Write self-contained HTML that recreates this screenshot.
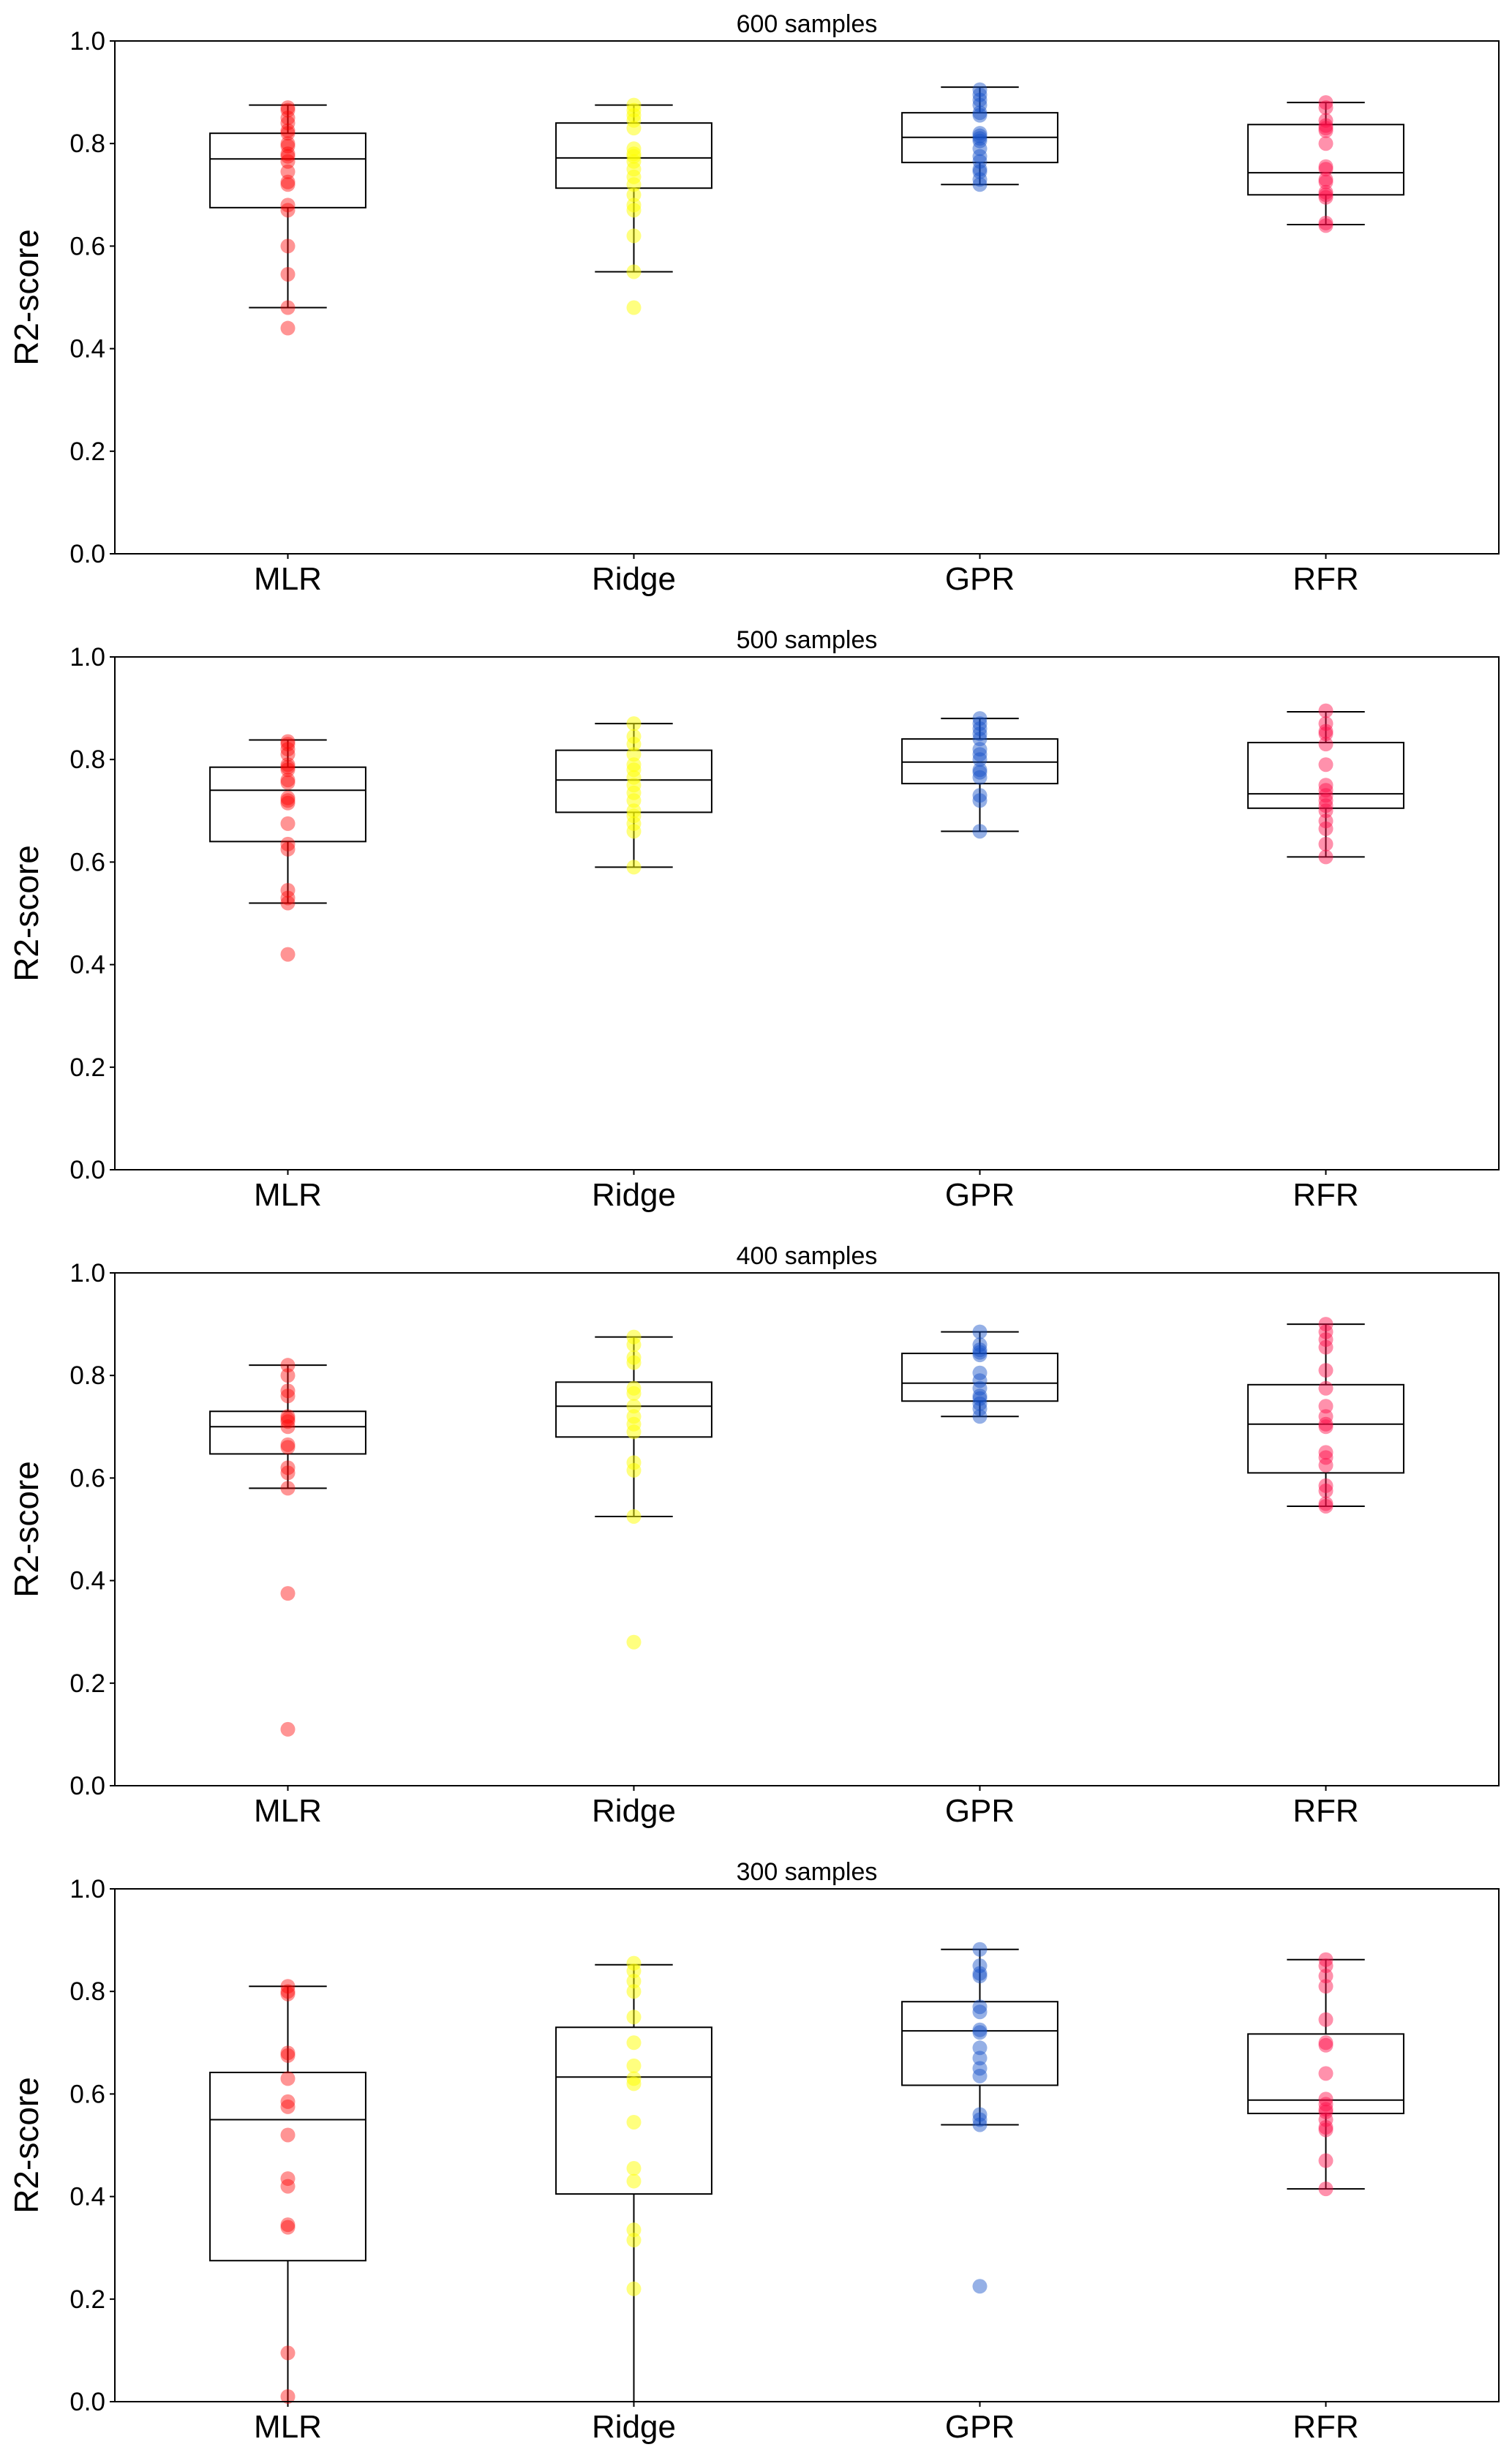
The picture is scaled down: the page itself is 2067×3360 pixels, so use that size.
<!DOCTYPE html>
<html><head><meta charset="utf-8"><style>
html,body{margin:0;padding:0;background:#fff;}
svg{display:block;font-family:"Liberation Sans","DejaVu Sans",sans-serif;}
</style></head>
<body>
<svg id="fig" width="2067" height="3360" viewBox="0 0 2067 3360" xmlns="http://www.w3.org/2000/svg"></svg>
<script>
const categories = ["MLR","Ridge","GPR","RFR"];
const panelTitles = ["600 samples","500 samples","400 samples","300 samples"];
const yTicks = [0,0.2,0.4,0.6,0.8,1.0];
const yTickLabels = ["0.0","0.2","0.4","0.6","0.8","1.0"];
// box stats per panel per category: [whiskerLow, q1, median, q3, whiskerHigh]
const stats600 = [[0.48,0.675,0.77,0.82,0.875],[0.55,0.713,0.772,0.84,0.875],[0.72,0.763,0.812,0.86,0.91],[0.642,0.70,0.743,0.837,0.88]];
const stats500 = [[0.52,0.64,0.74,0.785,0.838],[0.59,0.697,0.76,0.818,0.87],[0.66,0.753,0.795,0.84,0.88],[0.61,0.705,0.733,0.833,0.893]];
const stats400 = [[0.58,0.647,0.70,0.73,0.82],[0.525,0.68,0.74,0.787,0.875],[0.72,0.75,0.785,0.843,0.885],[0.545,0.61,0.705,0.782,0.9]];
const stats300 = [[0.0,0.275,0.55,0.642,0.81],[0.0,0.405,0.633,0.73,0.852],[0.54,0.617,0.723,0.78,0.882],[0.415,0.562,0.588,0.717,0.862]];
const pts600 = [
 [0.87,0.865,0.85,0.84,0.825,0.82,0.80,0.795,0.78,0.775,0.765,0.745,0.725,0.72,0.68,0.67,0.6,0.545,0.48,0.44],
 [0.875,0.865,0.855,0.845,0.83,0.79,0.78,0.775,0.765,0.75,0.735,0.72,0.7,0.68,0.67,0.62,0.55,0.48],
 [0.905,0.895,0.885,0.875,0.86,0.855,0.82,0.815,0.81,0.805,0.79,0.775,0.765,0.75,0.745,0.73,0.72],
 [0.88,0.87,0.845,0.835,0.83,0.825,0.8,0.755,0.75,0.73,0.725,0.705,0.7,0.695,0.645,0.64]];
const pts500 = [
 [0.835,0.83,0.82,0.81,0.79,0.785,0.78,0.76,0.755,0.725,0.72,0.715,0.675,0.635,0.625,0.545,0.53,0.52,0.42],
 [0.87,0.845,0.83,0.81,0.79,0.78,0.765,0.75,0.735,0.72,0.7,0.69,0.675,0.66,0.59],
 [0.88,0.87,0.86,0.85,0.84,0.82,0.81,0.8,0.78,0.775,0.765,0.73,0.72,0.66],
 [0.895,0.87,0.855,0.85,0.83,0.79,0.75,0.74,0.73,0.72,0.71,0.7,0.68,0.665,0.635,0.61]];
const pts400 = [
 [0.82,0.8,0.77,0.76,0.72,0.715,0.71,0.7,0.665,0.66,0.62,0.61,0.58,0.375,0.11],
 [0.875,0.86,0.835,0.825,0.775,0.765,0.74,0.72,0.705,0.69,0.63,0.615,0.525,0.28],
 [0.885,0.86,0.85,0.845,0.84,0.805,0.79,0.775,0.76,0.755,0.745,0.735,0.72],
 [0.9,0.885,0.87,0.855,0.81,0.775,0.74,0.72,0.705,0.7,0.65,0.64,0.625,0.585,0.575,0.55,0.545]];
const pts300 = [
 [0.81,0.8,0.795,0.68,0.675,0.63,0.585,0.575,0.52,0.435,0.42,0.345,0.34,0.095,0.01],
 [0.855,0.84,0.82,0.8,0.75,0.7,0.655,0.63,0.62,0.545,0.455,0.43,0.335,0.315,0.22],
 [0.882,0.85,0.835,0.83,0.77,0.76,0.725,0.72,0.69,0.67,0.65,0.635,0.56,0.55,0.54,0.225],
 [0.862,0.85,0.83,0.81,0.745,0.7,0.695,0.64,0.59,0.58,0.57,0.565,0.55,0.535,0.53,0.47,0.415]];
const allStats = [stats600,stats500,stats400,stats300];
const allPts = [pts600,pts500,pts400,pts300];
const colors = ["rgba(255,0,0,0.42)","rgba(255,255,0,0.5)","rgba(20,80,200,0.45)","rgba(255,10,70,0.45)"];

const NS = "http://www.w3.org/2000/svg";
const svg = document.getElementById('fig');
const L = 157, R = 2049, PH = 701, TOP0 = 56, STEP = 842;
function mk(tag, attrs, parent){const e=document.createElementNS(NS,tag);for(const k in attrs)e.setAttribute(k,attrs[k]);(parent||svg).appendChild(e);return e;}
function xPos(i){return L + (i + 0.5) * (R - L) / categories.length;}
const unit = (R - L) / categories.length;

allStats.forEach((stats, p) => {
  const top = TOP0 + p * STEP, bot = top + PH;
  const yPos = v => bot - v * PH;
  const g = mk('g', {});
  
  
  const t = mk('text', {x:(L+R)/2, y:top-12, 'text-anchor':'middle', 'font-size':34, fill:'#000'}, g);
  t.textContent = panelTitles[p];
  
  
  const yl = mk('text', {x:0, y:0, transform:`translate(52,${top+PH/2}) rotate(-90)`, 'text-anchor':'middle', 'font-size':46, fill:'#000'}, g);
  yl.textContent = 'R2-score';
  
  
  yTicks.forEach((v, k) => {
    const y = yPos(v);
    const tl = mk('line', {x1:L-7, x2:L, y1:y, y2:y, stroke:'#000', 'stroke-width':2}, g);
    
    
    const tx = mk('text', {x:L-13, y:y+12, 'text-anchor':'end', 'font-size':35, fill:'#000'}, g);
    tx.textContent = yTickLabels[k];
    
    
  });
  categories.forEach((c, i) => {
    const x = xPos(i);
    const tl = mk('line', {x1:x, x2:x, y1:bot, y2:bot+7, stroke:'#000', 'stroke-width':2}, g);
    
    
    const tx = mk('text', {x:x, y:bot+49, 'text-anchor':'middle', 'font-size':44, fill:'#000'}, g);
    tx.textContent = c;
    
    
    const s = stats[i];
    const bw = 0.45 * unit, cw = 0.225 * unit;
    const box = mk('g', {}, g);
    
    
    mk('line', {x1:x, x2:x, y1:yPos(s[0]), y2:yPos(s[1]), stroke:'#000', 'stroke-width':2}, box);
    mk('line', {x1:x, x2:x, y1:yPos(s[3]), y2:yPos(s[4]), stroke:'#000', 'stroke-width':2}, box);
    if (s[0] > 0) mk('line', {x1:x-cw/2, x2:x+cw/2, y1:yPos(s[0]), y2:yPos(s[0]), stroke:'#000', 'stroke-width':2}, box);
    mk('line', {x1:x-cw/2, x2:x+cw/2, y1:yPos(s[4]), y2:yPos(s[4]), stroke:'#000', 'stroke-width':2}, box);
    mk('rect', {x:x-bw/2, y:yPos(s[3]), width:bw, height:yPos(s[1])-yPos(s[3]), fill:'none', stroke:'#000', 'stroke-width':2}, box);
    mk('line', {x1:x-bw/2, x2:x+bw/2, y1:yPos(s[2]), y2:yPos(s[2]), stroke:'#000', 'stroke-width':2}, box);
    allPts[p][i].forEach(v => {
      const dot = mk('circle', {cx:x, cy:yPos(v), r:10, fill:colors[i]}, g);
      
      
    });
  });
  const frame = mk('rect', {x:L, y:top, width:R-L, height:PH, fill:'none', stroke:'#000', 'stroke-width':2}, g);
  
  
});
</script>
</body></html>
